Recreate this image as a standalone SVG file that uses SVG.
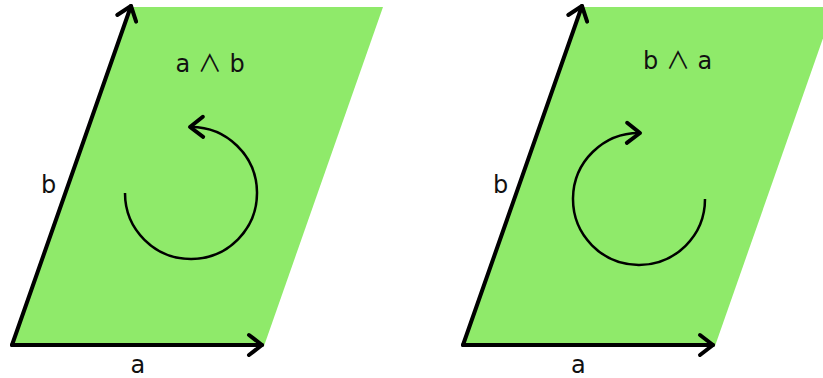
<svg xmlns="http://www.w3.org/2000/svg" width="823" height="378" viewBox="0 0 823 378">
  <style>
    .plane { fill: #8fea6a; stroke: none; }
    .vec { fill: none; stroke: #000; stroke-width: 4; stroke-linecap: round; marker-end: url(#chev); }
    .rot { fill: none; stroke: #000; stroke-width: 2.5; marker-end: url(#chev); }
    .lbl { font-family: "DejaVu Sans", "Liberation Sans", sans-serif; font-size: 24px; fill: #111; }
    .wedge { font-family: "Noto Sans CJK SC", "DejaVu Sans", sans-serif; }
  </style>
  <defs>
    <marker id="chev" markerUnits="userSpaceOnUse" markerWidth="40" markerHeight="40" viewBox="-20 -20 40 40" refX="0" refY="0" orient="auto" overflow="visible">
      <path d="M-13,-10 L0,0 L-13,10" fill="none" stroke="#000" stroke-width="4" stroke-linecap="round" stroke-linejoin="round"/>
    </marker>
  </defs>

  <g id="left">
    <polygon class="plane" points="12,346 264,346 383,7 131,7"/>
    <text class="lbl" x="175.5" y="72">a <tspan class="wedge">∧</tspan> b</text>
    <text class="lbl" x="41" y="193">b</text>
    <text class="lbl" x="130.5" y="373">a</text>
  </g>

  <g id="right">
    <polygon class="plane" points="463,346 715,346 834,7 582,7"/>
    <text class="lbl" x="643" y="69">b <tspan class="wedge">∧</tspan> a</text>
    <text class="lbl" x="493" y="193">b</text>
    <text class="lbl" x="571" y="373">a</text>
  </g>

  <g id="connectors">
    <path class="vec" d="M12,345 H262"/>
    <path class="vec" d="M12,345 L131,6"/>
    <path class="rot" d="M125,193 A66,66 0 1 0 190,127"/>
    <path class="vec" d="M463,345 H713"/>
    <path class="vec" d="M463,345 L582,6"/>
    <path class="rot" d="M705,199 A66,66 0 1 1 640,133"/>
  </g>
</svg>
